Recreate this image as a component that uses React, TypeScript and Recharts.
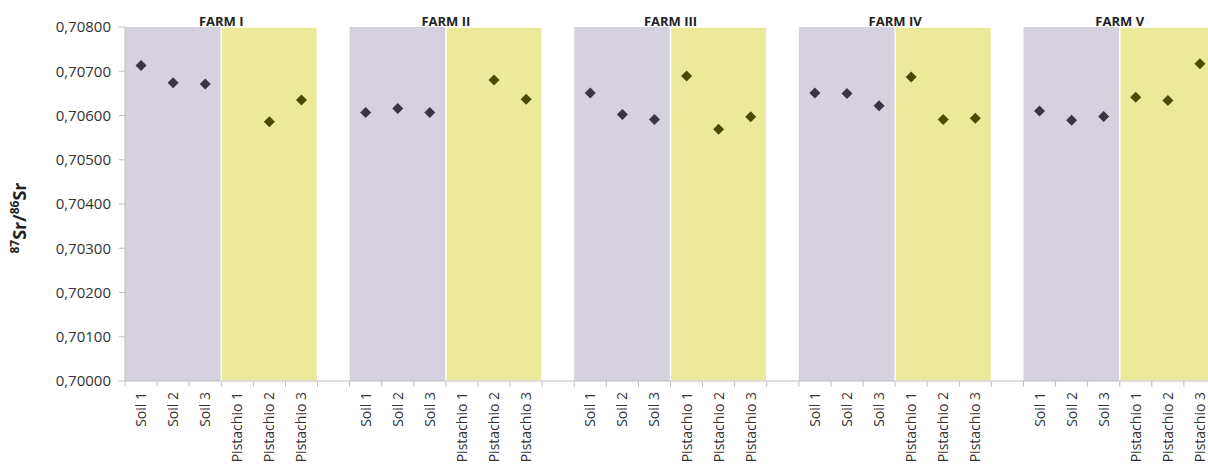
import { ComposedChart, Line, XAxis, YAxis, ReferenceArea } from "recharts";

const farms = ["FARM I", "FARM II", "FARM III", "FARM IV", "FARM V"];
const soilLabels = ["Soil 1", "Soil 2", "Soil 3"];
const pistachioLabels = ["Pistachio 1", "Pistachio 2", "Pistachio 3"];

// 87Sr/86Sr per farm (null = no sample plotted)
const soilValues = [
  [0.70713, 0.70674, 0.70671],
  [0.70607, 0.70616, 0.70607],
  [0.70651, 0.70602, 0.70591],
  [0.70651, 0.7065, 0.70622],
  [0.7061, 0.70589, 0.70598],
];
const pistachioValues: (number | null)[][] = [
  [null, 0.70586, 0.70635],
  [null, 0.7068, 0.70637],
  [0.70689, 0.70569, 0.70597],
  [0.70687, 0.70591, 0.70594],
  [0.70641, 0.70634, 0.70717],
];
const yTicks = [0.7, 0.701, 0.702, 0.703, 0.704, 0.705, 0.706, 0.707, 0.708];

type Row = { key: string; label: string; soil: number | null; pistachio: number | null };

const rows: Row[] = [];
farms.forEach((farm, f) => {
  soilLabels.forEach((l, i) => rows.push({ key: `${farm}|${l}`, label: l, soil: soilValues[f][i], pistachio: null }));
  pistachioLabels.forEach((l, i) =>
    rows.push({ key: `${farm}|${l}`, label: l, soil: null, pistachio: pistachioValues[f][i] })
  );
  if (f < farms.length - 1) rows.push({ key: `gap${f}`, label: "", soil: null, pistachio: null });
});

const FONT = "'Open Sans', sans-serif";
const SOIL_BG = "#d6d1de";
const PIST_BG = "#ebea9b";

function XTick(props: any) {
  const { x, y, payload } = props;
  const half = payload?.offset ?? 16;
  const label = rows.find((r) => r.key === payload.value)?.label ?? "";
  return (
    <g>
      <line x1={x - half} x2={x - half} y1={y - 8} y2={y - 2} stroke="#bfbfbf" />
      {label && (
        <text
          x={x + 5}
          y={y + 3}
          transform={`rotate(-90, ${x + 5}, ${y + 3})`}
          textAnchor="end"
          fontSize={14}
          fontFamily={FONT}
          fill="#333"
        >
          {label}
        </text>
      )}
    </g>
  );
}

const diamond = (color: string) => (props: any) => {
  const { cx, cy, value, index } = props;
  if (value == null || cx == null || cy == null) return <g key={index} />;
  const r = 5.5;
  return (
    <polygon
      key={index}
      points={`${cx},${cy - r} ${cx + r},${cy} ${cx},${cy + r} ${cx - r},${cy}`}
      fill={color}
    />
  );
};

function YTitle(props: any) {
  const vb = props.viewBox || { x: 0, y: 27, height: 354 };
  const cx = 26;
  const cy = vb.y + vb.height / 2 + 14;
  return (
    <text
      x={cx}
      y={cy}
      transform={`rotate(-90, ${cx}, ${cy})`}
      textAnchor="middle"
      fontFamily={FONT}
      fontWeight="bold"
      fontSize={18}
      fill="#222"
    >
      <tspan fontSize={12} dy={-7}>87</tspan>
      <tspan dy={7}>Sr/</tspan>
      <tspan fontSize={12} dy={-7}>86</tspan>
      <tspan dy={7}>Sr</tspan>
    </text>
  );
}

export default function App() {
  return (
    <div style={{ position: "absolute", left: 0, top: 0, width: 1208, height: 466, overflow: "hidden", background: "#fff" }}>
      <ComposedChart width={1216} height={466} data={rows} margin={{ top: 27, right: 0, left: 0, bottom: 0 }}>
        {farms.map((farm) => (
          <ReferenceArea
            key={`s-${farm}`}
            x1={`${farm}|Soil 1`}
            x2={`${farm}|Soil 3`}
            y1={0.7}
            y2={0.708}
            fill={SOIL_BG}
            fillOpacity={1}
            stroke="none"
            ifOverflow="extendDomain"
          />
        ))}
        {farms.map((farm) => (
          <ReferenceArea
            key={`p-${farm}`}
            x1={`${farm}|Pistachio 1`}
            x2={`${farm}|Pistachio 3`}
            y1={0.7}
            y2={0.708}
            fill={PIST_BG}
            fillOpacity={1}
            stroke="#ffffff"
            strokeWidth={1.5}
            ifOverflow="extendDomain"
          />
        ))}
        {farms.map((farm) => (
          <ReferenceArea
            key={`t-${farm}`}
            x1={`${farm}|Soil 1`}
            x2={`${farm}|Pistachio 3`}
            y1={0.7}
            y2={0.708}
            fill="none"
            stroke="none"
            label={{
              value: farm,
              position: "top",
              offset: 1,
              fontFamily: FONT,
              fontWeight: "bold",
              fontSize: 13,
              fill: "#222",
            }}
          />
        ))}
        <XAxis
          dataKey="key"
          type="category"
          scale="band"
          interval={0}
          height={85}
          tick={<XTick />}
          tickLine={false}
          axisLine={{ stroke: "#bfbfbf" }}
        />
        <YAxis
          type="number"
          domain={[0.7, 0.708]}
          ticks={yTicks}
          width={125}
          tickSize={6}
          tickMargin={8}
          tickLine={{ stroke: "#bfbfbf" }}
          axisLine={{ stroke: "#bfbfbf" }}
          tick={{ fontSize: 15, fontFamily: FONT, fill: "#333" }}
          tickFormatter={(v: number) => v.toFixed(5).replace(".", ",")}
          label={{ content: <YTitle /> }}
        />
        <Line
          dataKey="soil"
          stroke="none"
          dot={diamond("#3a3446")}
          activeDot={false}
          isAnimationActive={false}
          connectNulls={false}
        />
        <Line
          dataKey="pistachio"
          stroke="none"
          dot={diamond("#4b4a05")}
          activeDot={false}
          isAnimationActive={false}
          connectNulls={false}
        />
      </ComposedChart>
    </div>
  );
}
